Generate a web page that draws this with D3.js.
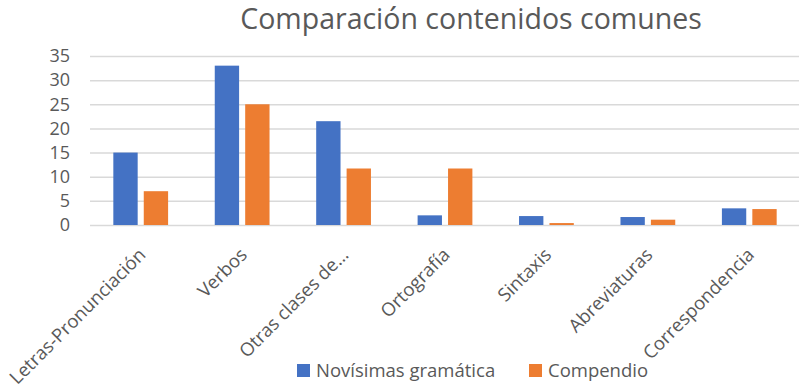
<!DOCTYPE html>
<html><head><meta charset="utf-8">
<script src="https://cdn.jsdelivr.net/npm/d3@7"></script>
<style>body{margin:0;background:#fff}svg{display:block}</style>
</head><body>
<svg id="c" width="799" height="389"></svg>
<script>
const categories = ["Letras-Pronunciación","Verbos","Otras clases de…","Ortografía","Sintaxis","Abreviaturas","Correspondencia"];
const seriesNames = ["Novísimas gramática","Compendio"];
const novisimas = [15, 33, 21.5, 2, 1.85, 1.65, 3.45];
const compendio = [7, 25, 11.7, 11.7, 0.4, 1.1, 3.3];
const yTicks = [0,5,10,15,20,25,30,35];
const colors = ["#4472C4","#ED7D31"];
const title = "Comparación contenidos comunes";

const font = "'Open Sans','Noto Sans',sans-serif";
const svg = d3.select("#c");
const x0 = d3.scaleBand().domain(categories).range([90, 800]).paddingInner(0.46).paddingOuter(0.23);
const x1 = d3.scaleBand().domain(seriesNames).range([0, x0.bandwidth()]).paddingInner(0.2);
const y = d3.scaleLinear().domain([0,35]).range([225, 56]);

svg.append("text").attr("x", 471).attr("y", 29).attr("text-anchor","middle")
  .attr("font-family", font).attr("font-size", 28.5).attr("fill","#595959").text(title);

const gy = svg.append("g").attr("transform","translate(90,0)")
  .call(d3.axisLeft(y).tickValues(yTicks).tickSize(-709).tickPadding(20));
gy.select(".domain").remove();
gy.selectAll(".tick line").attr("stroke","#d9d9d9").attr("stroke-width",1.5);
gy.selectAll(".tick text").attr("font-family",font).attr("font-size",18).attr("fill","#595959");

const data = categories.map((c,i)=>({c, v:[novisimas[i], compendio[i]]}));
svg.append("g").selectAll("g").data(data).join("g")
  .attr("transform", d=>`translate(${x0(d.c)},0)`)
  .selectAll("rect").data(d=>d.v.map((v,j)=>({v, s:seriesNames[j], j})))
  .join("rect").attr("x", d=>x1(d.s)).attr("width", x1.bandwidth())
  .attr("y", d=>y(d.v)).attr("height", d=>y(0)-y(d.v)).attr("fill", d=>colors[d.j]);

const gx = svg.append("g").attr("transform","translate(0,225)")
  .call(d3.axisBottom(x0).tickSize(0).tickPadding(0));
gx.select(".domain").remove();
gx.selectAll(".tick text").attr("font-family",font).attr("font-size",18.5).attr("fill","#595959")
  .attr("text-anchor","end").attr("dy",0).attr("y",0)
  .attr("transform","translate(6,31) rotate(-45)");

const lg = svg.append("g");
const lx = [297, 529];
seriesNames.forEach((s,i)=>{
  lg.append("rect").attr("x", lx[i]).attr("y", 364).attr("width", 13).attr("height", 13).attr("fill", colors[i]);
  lg.append("text").attr("x", lx[i]+19).attr("y", 377).attr("font-family",font).attr("font-size",18.5)
    .attr("fill","#595959").text(s);
});
</script>
</body></html>
